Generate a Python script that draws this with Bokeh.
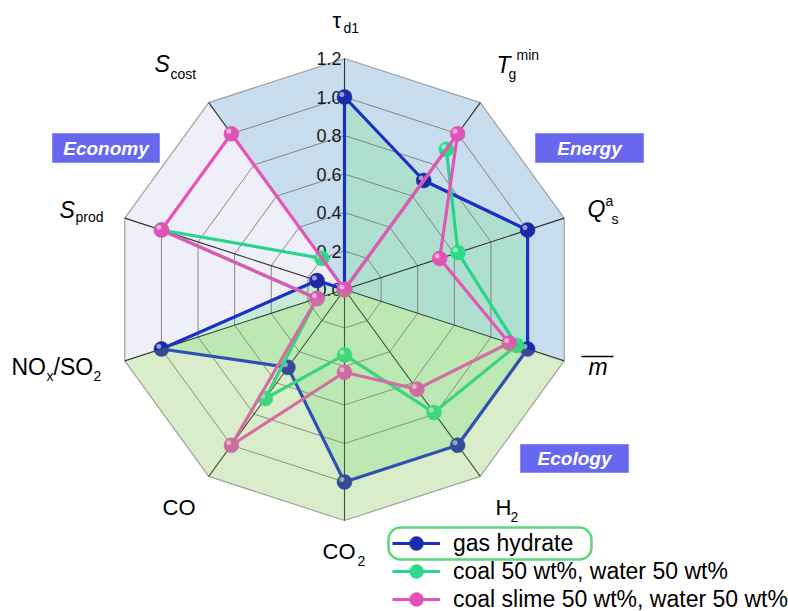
import math
from bokeh.plotting import figure
from bokeh.models import Range1d, Label, BoxAnnotation, Legend, LegendItem
from bokeh.embed import file_html
from bokeh.resources import INLINE
from bokeh.core.properties import value

# ---------------- data ----------------
axis_names = ["tau_d1", "T_g^min", "Q_s^a", "m_bar", "H2", "CO2", "CO", "NOx/SO2", "S_prod", "S_cost"]
gas_hydrate = [1.0, 0.70, 1.0, 1.0, 1.0, 1.0, 0.50, 1.0, 0.15, 0.0]
coal_water = [0.0, 0.90, 0.62, 0.94, 0.79, 0.34, 0.70, 0.15, 1.0, 0.20]
slime_water = [0.0, 1.0, 0.52, 0.90, 0.64, 0.43, 1.0, 0.15, 1.0, 1.0]
series_names = ["gas hydrate", "coal 50 wt%, water 50 wt%", "coal slime 50 wt%, water 50 wt%"]
ring_levels = [0.2, 0.4, 0.6, 0.8, 1.0]
r_max = 1.2
tick_values = [0.0, 0.2, 0.4, 0.6, 0.8, 1.0, 1.2]
tick_labels = ["0.0", "0.2", "0.4", "0.6", "0.8", "1.0", "1.2"]
group_names = ["Economy", "Energy", "Ecology"]

# ---------------- geometry ----------------
W, H = 788, 611
S = 192.5            # pixels per unit
CX, CY = 344, 289    # pixel position of the centre
x0 = -CX / S
x1 = x0 + W / S
ytop = CY / S
ybot = ytop - H / S

def PX(px):
    return x0 + px / S

def PY(py):
    return ytop - py / S

n = len(axis_names)
ang = [2 * math.pi * i / n for i in range(n)]

def polar(vals):
    xs = [v * math.sin(a) for v, a in zip(vals, ang)]
    ys = [v * math.cos(a) for v, a in zip(vals, ang)]
    return xs, ys

FONT = "Liberation Sans"

p = figure(width=W, height=H, x_range=Range1d(x0, x1), y_range=Range1d(ybot, ytop),
           output_backend="svg", toolbar_location=None, min_border=0,
           x_axis_location=None, y_axis_location=None)
p.grid.visible = False
p.outline_line_color = None
p.background_fill_color = "white"
p.border_fill_color = "white"

# ---------------- background sectors ----------------
ox, oy = polar([r_max] * n)
def sector(idx):
    return [0.0] + [ox[i] for i in idx], [0.0] + [oy[i] for i in idx]

bx, by = sector([9, 0, 1, 2, 3])
p.patch(bx, by, fill_color="#c8deee", line_color=None)
lx, ly = sector([7, 8, 9])
p.patch(lx, ly, fill_color="#efeffa", line_color=None)
fx, fy = sector([3, 4, 5, 6, 7])
p.patch(fx, fy, fill_color="#f0f8e8", line_color=None)

# hydrate translucent fill
hx, hy = polar(gas_hydrate)
p.patch(hx, hy, fill_color="#82e696", fill_alpha=0.35, line_color=None)

# rings
for lv in ring_levels:
    rx, ry = polar([lv] * n)
    p.line(rx + [rx[0]], ry + [ry[0]], line_color="#7a7a7a", line_width=0.9)
p.line(ox + [ox[0]], oy + [oy[0]], line_color="#a0a0a0", line_width=1.2)
# spokes
p.segment(x0=[0.0] * n, y0=[0.0] * n, x1=ox, y1=oy, line_color="#303030", line_width=1.1)

# tick labels
p.text(x=[0.0] * len(tick_values), y=tick_values, text=tick_labels, text_align="right",
       text_baseline="middle", x_offset=-3, text_font=value(FONT), text_font_size="18px",
       text_color="#1a1a1a")

# ---------------- series ----------------
styles = [
    (gas_hydrate, "#1a2ec8", "#1b2aa6"),
    (coal_water, "#27d68a", "#2bdc86"),
    (slime_water, "#e655b5", "#e052b6"),
]
legend_items = []
hl = 2.6 / S

def spheres(xs, ys, mc, size=15):
    r = p.scatter(xs, ys, size=size, fill_color=mc, line_color=mc, line_width=0.5)
    p.scatter([x - hl for x in xs], [y + hl for y in ys], size=5, fill_color="white",
              fill_alpha=0.55, line_color=None)
    return r

for vals, lc, mc in styles:
    xs, ys = polar(vals)
    lr = p.line(xs + [xs[0]], ys + [ys[0]], line_color=lc, line_width=3.2)
    sr = spheres(xs, ys, mc)
    legend_items.append((lr, sr))

# floor overlay (bottom sector), drawn over the lines
p.patch(fx, fy, fill_color="#8cc860", fill_alpha=0.22, line_color=None)

# ---------------- axis labels ----------------
# (px, py) = left end and baseline of each text piece, in pixels
def lab(text, px, py, size, style="normal"):
    p.text(x=[PX(px)], y=[PY(py - 0.38 * size)], text=[text], text_font=value(FONT),
           text_font_size=f"{size}px", text_font_style=style,
           text_baseline="middle", text_align="left", text_color="black")

lab("τ", 332, 28, 22)
lab("d1", 343, 33, 14)
lab("T", 496, 73, 23, "italic")
lab("g", 508, 79, 14)
lab("min", 516, 60, 14)
lab("Q", 587, 217, 23, "italic")
lab("a", 605, 206, 14)
lab("s", 611, 224, 14)
lab("m", 588, 375, 23, "italic")
p.segment(x0=[PX(581)], y0=[PY(356)], x1=[PX(613)], y1=[PY(356)], line_color="black", line_width=1.3)
lab("H", 495, 515, 22)
lab("2", 510, 522, 14)
lab("CO", 322, 559, 22)
lab("2", 357, 566, 14)
lab("CO", 162, 515, 22)
lab("NO", 11, 375, 23)
lab("x", 46, 381, 14)
lab("/SO", 53, 375, 23)
lab("2", 93, 381, 14)
lab("S", 59, 218, 23, "italic")
lab("prod", 75, 222, 14)
lab("S", 154, 72, 23, "italic")
lab("cost", 170, 79, 14)

# ---------------- group boxes ----------------
boxes = [(52, 159, 133, 162), (535, 643, 133, 162), (520, 628, 444, 472)]
for name, (l, r, t, b) in zip(group_names, boxes):
    p.add_layout(BoxAnnotation(left=PX(l), right=PX(r), top=PY(t), bottom=PY(b),
                               fill_color="#6767f0", fill_alpha=1.0, line_color="#8c8cf5",
                               line_alpha=1.0, line_width=1))
    p.add_layout(Label(x=PX((l + r) / 2), y=PY((t + b) / 2), text=name, text_font=FONT,
                       text_font_size="19px", text_font_style="bold italic",
                       text_color="white", text_align="center", text_baseline="middle"))

# ---------------- legend ----------------
LEG_X, LEG_Y, ROW = 392, -2, 28
legend = Legend(items=[LegendItem(label=nm, renderers=[lr, sr])
                       for nm, (lr, sr) in zip(series_names, legend_items)],
                location=(LEG_X, LEG_Y), orientation="vertical", padding=0, margin=0,
                spacing=0, glyph_width=48, glyph_height=ROW, label_height=ROW,
                label_standoff=13, label_text_font=FONT, label_text_font_size="23px",
                label_text_color="black", border_line_color=None,
                background_fill_alpha=0.0, inactive_fill_alpha=0.0)
p.add_layout(legend)
# larger sphere icons under the legend glyphs
row_centres = [H - LEG_Y - ROW / 2 - ROW * k for k in (2, 1, 0)]
for (vals, lc, mc), yc in zip(styles, row_centres):
    spheres([PX(LEG_X + 24)], [PY(yc)], mc, size=14)
p.add_layout(BoxAnnotation(left=PX(388), right=PX(591), top=PY(527), bottom=PY(559),
                           fill_alpha=0.0, line_color="#5cd87a", line_alpha=1.0,
                           line_width=2.5, border_radius=12))

open("out.html", "w").write(file_html(p, INLINE))
